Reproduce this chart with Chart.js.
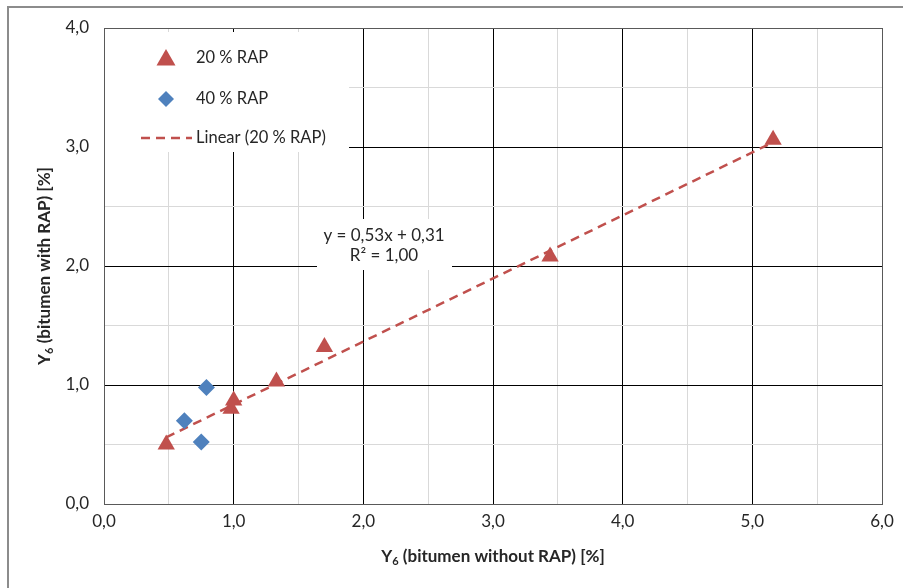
<!DOCTYPE html>
<html>
<head>
<meta charset="utf-8">
<script src="https://cdn.jsdelivr.net/npm/chart.js@4.4.1/dist/chart.umd.min.js"></script>
<style>
  html, body { margin: 0; padding: 0; background: #fff; }
  #wrap { width: 903px; height: 588px; position: relative; }
</style>
</head>
<body>
<div id="wrap"><canvas id="myScatter" width="903" height="588"></canvas></div>
<script>
// values
var rap20X = [0.48, 0.98, 1.00, 1.33, 1.70, 3.44, 5.16];
var rap20Y = [0.50, 0.80, 0.87, 1.03, 1.32, 2.08, 3.06];
var rap40X = [0.62, 0.79, 0.75];
var rap40Y = [0.70, 0.98, 0.52];
var trendX = [0.48, 5.16];
var trendY = [0.56, 3.04];
var xTicks = [0, 1, 2, 3, 4, 5, 6];
var yTicks = [0, 1, 2, 3, 4];
var seriesLabels = ["20 % RAP", "40 % RAP", "Linear (20 % RAP)"];
var equationLines = ["y = 0,53x + 0,31", "R² = 1,00"];

var red = "#C0504D";
var blue = "#4F81BD";
var FONT = "Lato, 'Open Sans', sans-serif";

function pairs(xs, ys) {
	var out = [];
	for (var i = 0; i < xs.length; i++) out.push({ x: xs[i], y: ys[i] });
	return out;
}

function fmt(v) {
	return v.toFixed(1).replace(".", ",");
}

function gridColor(ctx) {
	var v = ctx.tick ? ctx.tick.value : 0;
	if (Math.abs(v - Math.round(v)) < 1e-6) return "#000";
	return "#d9d9d9";
}

// draw text with a subscripted "6" after the leading "Y"
function drawSubTitle(ctx, x, y, rest, size) {
	ctx.font = "bold " + size + "px " + FONT;
	var wY = ctx.measureText("Y").width;
	ctx.font = "bold " + (size * 0.65) + "px " + FONT;
	var w6 = ctx.measureText("6").width;
	ctx.font = "bold " + size + "px " + FONT;
	var wR = ctx.measureText(rest).width;
	var total = wY + w6 + wR;
	var sx = x - total / 2;
	ctx.textAlign = "left";
	ctx.textBaseline = "middle";
	ctx.fillText("Y", sx, y);
	ctx.font = "bold " + (size * 0.65) + "px " + FONT;
	ctx.fillText("6", sx + wY, y + size * 0.25);
	ctx.font = "bold " + size + "px " + FONT;
	ctx.fillText(rest, sx + wY + w6, y);
}

var decorations = {
	id: "decorations",
	beforeDatasetsDraw: function(chart) {
		var ctx = chart.ctx, a = chart.chartArea;
		ctx.save();
		// plot area frame
		ctx.strokeStyle = "#595959";
		ctx.lineWidth = 1;
		ctx.strokeRect(Math.round(a.left) + 0.5, Math.round(a.top) + 0.5,
			Math.round(a.right - a.left), Math.round(a.bottom - a.top));
		// equation label box
		ctx.fillStyle = "#fff";
		ctx.fillRect(317, 219, 135, 51);
		ctx.restore();
	},
	afterDraw: function(chart) {
		var ctx = chart.ctx, a = chart.chartArea;
		ctx.save();
		// outer chart border
		ctx.strokeStyle = "#8c8c8c";
		ctx.lineWidth = 2;
		ctx.beginPath();
		ctx.moveTo(8, 600);
		ctx.lineTo(8, 7);
		ctx.lineTo(910, 7);
		ctx.stroke();

		// legend box
		ctx.fillStyle = "#fff";
		ctx.fillRect(a.left + 1, a.top + 4, 244, 120);
		ctx.font = "16.5px " + FONT;
		ctx.textAlign = "left";
		ctx.textBaseline = "middle";
		// triangle
		ctx.fillStyle = red;
		ctx.beginPath();
		ctx.moveTo(166, 49); ctx.lineTo(175.5, 65.5); ctx.lineTo(156.5, 65.5); ctx.closePath();
		ctx.fill();
		// diamond
		ctx.fillStyle = blue;
		ctx.beginPath();
		ctx.moveTo(166, 91); ctx.lineTo(174, 99); ctx.lineTo(166, 107); ctx.lineTo(158, 99); ctx.closePath();
		ctx.fill();
		// dashed line
		ctx.strokeStyle = red;
		ctx.lineWidth = 2.5;
		ctx.setLineDash([9, 6]);
		ctx.beginPath();
		ctx.moveTo(141, 138); ctx.lineTo(192, 138);
		ctx.stroke();
		ctx.setLineDash([]);
		ctx.fillStyle = "#262626";
		ctx.fillText(seriesLabels[0], 196, 58);
		ctx.fillText(seriesLabels[1], 196, 99);
		ctx.fillText(seriesLabels[2], 196, 138);

		// equation
		ctx.font = "17px " + FONT;
		ctx.textAlign = "center";
		ctx.fillText(equationLines[0], 384, 236);
		ctx.fillText(equationLines[1], 384, 256);

		// axis titles
		drawSubTitle(ctx, (a.left + a.right) / 2, 557, " (bitumen without RAP) [%]", 17);
		ctx.translate(45, (a.top + a.bottom) / 2);
		ctx.rotate(-Math.PI / 2);
		drawSubTitle(ctx, 0, 0, " (bitumen with RAP) [%]", 17);
		ctx.restore();
	}
};

var ctx = document.getElementById("myScatter");

var chart = new Chart(ctx, {
	type: "scatter",
	data: {
		datasets: [
			{
				label: seriesLabels[0],
				data: pairs(rap20X, rap20Y),
				pointStyle: "triangle",
				pointRadius: 10,
				pointHoverRadius: 10,
				backgroundColor: red,
				borderColor: red,
				borderWidth: 0,
				order: 1
			},
			{
				label: seriesLabels[1],
				data: pairs(rap40X, rap40Y),
				pointStyle: "rectRot",
				pointRadius: 8.5,
				pointHoverRadius: 8.5,
				backgroundColor: blue,
				borderColor: blue,
				borderWidth: 0,
				order: 1
			},
			{
				label: seriesLabels[2],
				data: pairs(trendX, trendY),
				showLine: true,
				pointRadius: 0,
				borderColor: red,
				borderWidth: 2.5,
				borderDash: [9, 6],
				fill: false,
				order: 3
			}
		]
	},
	options: {
		responsive: false,
		animation: false,
		layout: { padding: { top: 28, right: 21, left: 0, bottom: 0 } },
		plugins: {
			legend: { display: false },
			tooltip: { enabled: false }
		},
		scales: {
			x: {
				type: "linear",
				min: 0,
				max: 6,
				afterFit: function(scale) { scale.height = 84; },
				afterBuildTicks: function(scale) {
					var t = [];
					for (var v = 0; v <= 6.001; v += 0.5) t.push({ value: Math.round(v * 10) / 10 });
					scale.ticks = t;
				},
				grid: { color: gridColor, lineWidth: 1, drawTicks: false },
				border: { display: false },
				ticks: {
					padding: 7,
					autoSkip: false,
					maxRotation: 0,
					color: "#262626",
					font: { family: FONT, size: 17 },
					callback: function(v) { return xTicks.indexOf(v) >= 0 ? fmt(v) : ""; }
				}
			},
			y: {
				type: "linear",
				min: 0,
				max: 4,
				afterFit: function(scale) { scale.width = 104; },
				afterBuildTicks: function(scale) {
					var t = [];
					for (var v = 0; v <= 4.001; v += 0.5) t.push({ value: Math.round(v * 10) / 10 });
					scale.ticks = t;
				},
				grid: { color: gridColor, lineWidth: 1, drawTicks: false },
				border: { display: false },
				ticks: {
					padding: 15,
					autoSkip: false,
					color: "#262626",
					font: { family: FONT, size: 17 },
					callback: function(v) { return yTicks.indexOf(v) >= 0 ? fmt(v) : ""; }
				}
			}
		}
	},
	plugins: [decorations]
});
</script>
</body>
</html>
